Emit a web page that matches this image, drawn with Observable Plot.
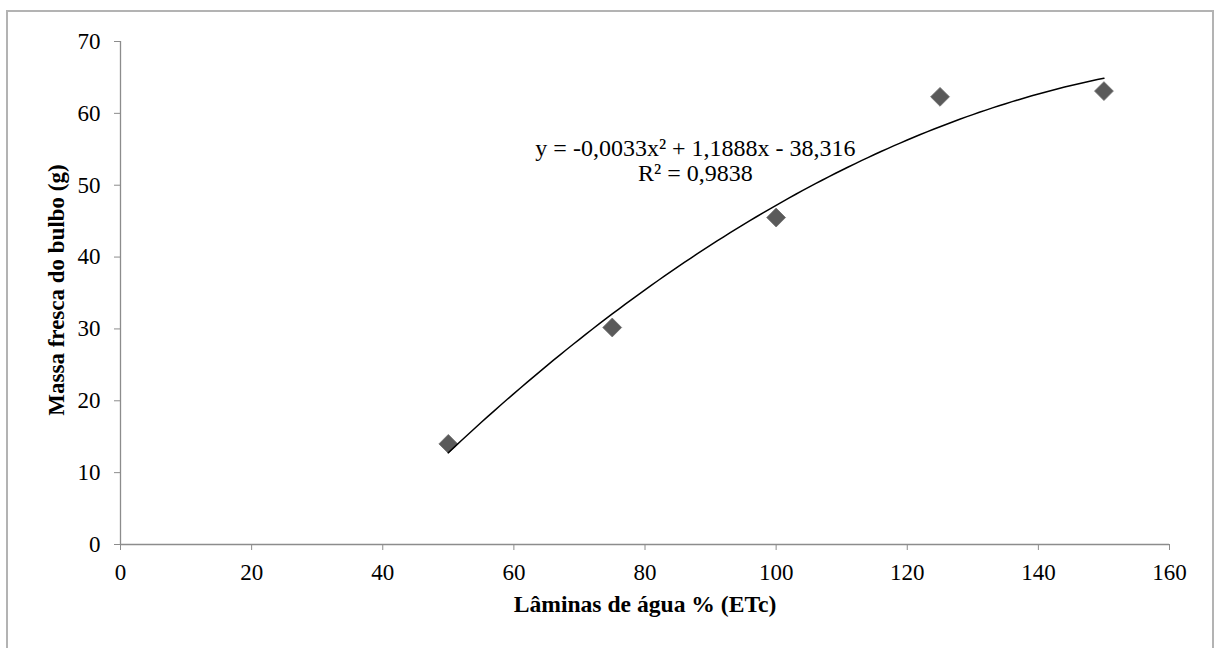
<!DOCTYPE html>
<html>
<head>
<meta charset="utf-8">
<script src="https://cdn.jsdelivr.net/npm/d3@7"></script>
<script src="https://cdn.jsdelivr.net/npm/@observablehq/plot@0.6"></script>
<style>
  html, body { margin: 0; padding: 0; background: #fff; overflow: hidden; }
  #wrap { position: relative; width: 1218px; height: 648px; }
  #frame { position: absolute; left: 6px; top: 10px; width: 1208px; height: 700px; border: 2px solid #b3b3b3; box-sizing: border-box; pointer-events: none; }
  svg, svg text { font-family: "Liberation Serif", "Times New Roman", serif !important; }
</style>
</head>
<body>
<div id="wrap"><div id="frame"></div><div id="chart"></div></div>
<script>
// Data
const laminas = [50, 75, 100, 125, 150];          // Lâminas de água % (ETc)
const massa   = [14.0, 30.2, 45.5, 62.3, 63.1];   // Massa fresca do bulbo (g)
const xTicks = [0, 20, 40, 60, 80, 100, 120, 140, 160];
const yTicks = [0, 10, 20, 30, 40, 50, 60, 70];
const eqLines = ["y = -0,0033x² + 1,1888x - 38,316", "R² = 0,9838"];
const xLabel = "Lâminas de água % (ETc)";
const yLabel = "Massa fresca do bulbo (g)";

const points = laminas.map((x, i) => ({x, y: massa[i]}));

// Quadratic least-squares trendline fitted to the data (as the spreadsheet does)
function quadFit(xs, ys) {
  const S = k => d3.sum(xs, x => x ** k);
  const T = k => d3.sum(xs, (x, i) => x ** k * ys[i]);
  const M = [[S(4), S(3), S(2), T(2)], [S(3), S(2), S(1), T(1)], [S(2), S(1), xs.length, T(0)]];
  for (let i = 0; i < 3; i++) {
    for (let j = i + 1; j < 3; j++) {
      const f = M[j][i] / M[i][i];
      for (let k = i; k < 4; k++) M[j][k] -= f * M[i][k];
    }
  }
  const r = [0, 0, 0];
  for (let i = 2; i >= 0; i--) {
    let s = M[i][3];
    for (let k = i + 1; k < 3; k++) s -= M[i][k] * r[k];
    r[i] = s / M[i][i];
  }
  return r;
}
const [qa, qb, qc] = quadFit(laminas, massa);
const trend = d3.range(d3.min(laminas), d3.max(laminas) + 0.01, 1)
  .map(x => ({x, y: qa * x * x + qb * x + qc}));

const axisColor = "#8c8c8c";
const chart = Plot.plot({
  width: 1218,
  height: 648,
  marginLeft: 120,
  marginRight: 49,
  marginTop: 41,
  marginBottom: 104,
  style: {fontFamily: "'Liberation Serif', 'Times New Roman', serif", fontSize: "23px", color: "#000", background: "transparent", overflow: "visible"},
  x: {domain: [0, 160]},
  y: {domain: [0, 70]},
  marks: [
    Plot.ruleY([0], {stroke: axisColor, strokeWidth: 1.3}),
    Plot.ruleX([0], {stroke: axisColor, strokeWidth: 1.3}),
    Plot.axisX({ticks: xTicks, tickSize: 6, tickPadding: 13, stroke: axisColor, fill: "#000", label: null, fontSize: 23}),
    Plot.axisY({ticks: yTicks, tickSize: 6, tickPadding: 14, stroke: axisColor, fill: "#000", label: null, fontSize: 23}),
    Plot.text([xLabel], {frameAnchor: "bottom", dy: 67, fontWeight: "bold", fontSize: 23.6, fill: "#000"}),
    Plot.text([yLabel], {frameAnchor: "left", textAnchor: "middle", dx: -64, dy: -3, rotate: -90, fontWeight: "bold", fontSize: 23, fill: "#000"}),
    Plot.dot(points, {x: "x", y: "y", symbol: "diamond2", r: 8.5, fill: "#5a5a5a", stroke: "#6e6e6e", strokeWidth: 0.8}),
    Plot.line(trend, {x: "x", y: "y", stroke: "#000", strokeWidth: 1.5}),
    Plot.text([eqLines[0]], {x: 87.7, y: 55.1, fontSize: 24, fill: "#000"}),
    Plot.text([eqLines[1]], {x: 87.7, y: 51.6, fontSize: 24, fill: "#000"})
  ]
});
document.getElementById("chart").appendChild(chart);
</script>
</body>
</html>
